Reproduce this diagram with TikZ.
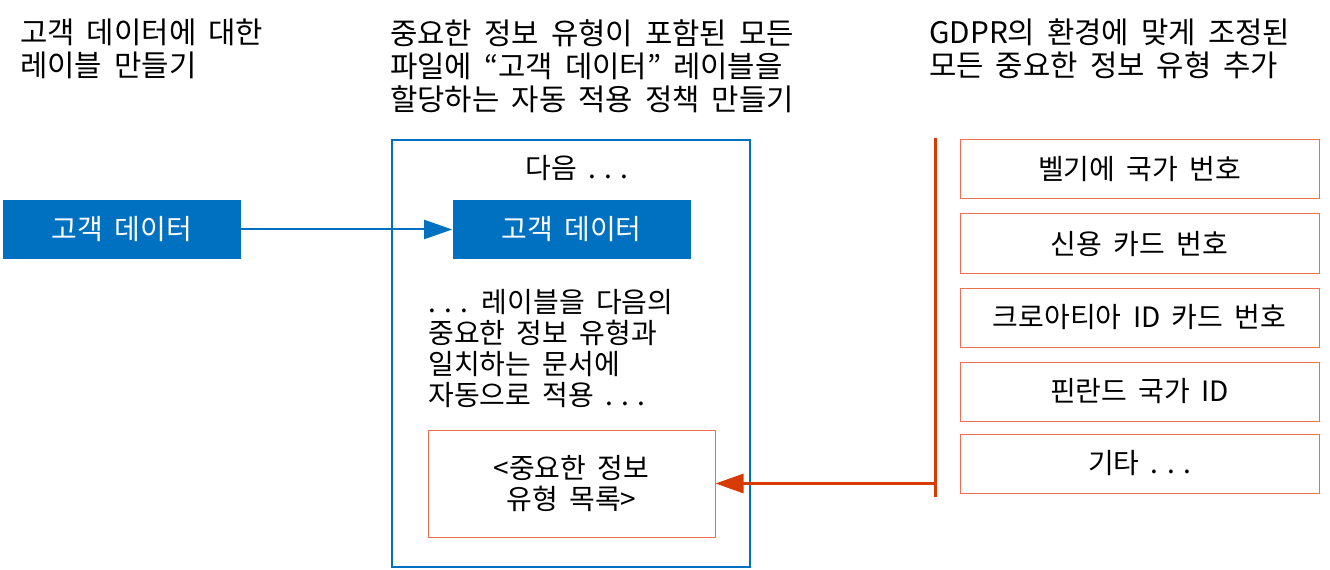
\documentclass[tikz,border=0pt]{standalone}
\usepackage{fontspec}
\setmainfont[WordSpace=1.8]{Noto Sans CJK KR}
\usetikzlibrary{arrows.meta}
\definecolor{msblue}{RGB}{0,112,192}
\definecolor{msorange}{RGB}{216,59,1}
\definecolor{lightorange}{RGB}{237,112,80}
\newcommand{\etcdots}{.\hspace{0.3em}.\hspace{0.3em}.}

\begin{document}
\begin{tikzpicture}[x=0.75pt,y=0.75pt,yscale=-1.0,xscale=1.0,
  heading/.style={anchor=north west,inner sep=0pt,align=left,font=\fontsize{22.3}{24.75}\selectfont},
  body/.style={inner sep=0pt,font=\fontsize{21}{23.25}\selectfont},
  labelbox/.style={body,fill=msblue,text=white,minimum width=178.5pt,minimum height=44.25pt},
  typebox/.style={body,draw=lightorange,line width=0.75pt,minimum width=269.25pt,minimum height=44.25pt},
  flow/.style={line width=1.5pt,-{Triangle[length=21pt,width=14.25pt]}}]
\useasboundingbox (0,0) rectangle (1330,570);
\node[heading] (h1) at (20,19) {고객 데이터에 대한\\레이블 만들기};
\node[heading] (h2) at (390,19) {중요한 정보 유형이 포함된 모든\\파일에 “고객 데이터” 레이블을\\할당하는 자동 적용 정책 만들기};
\node[heading] (h3) at (929,19) {GDPR의 환경에 맞게 조정된\\모든 중요한 정보 유형 추가};
\node[labelbox] (src) at (122,229.5) {고객 데이터};
\node[draw=msblue,line width=1.8pt,minimum width=268.5pt,minimum height=320.25pt,inner sep=0pt] (policy) at (571,353.5) {};
\node[body] (next) at (577,168) {다음 \etcdots};
\node[labelbox] (dst) at (571.5,229.5) {고객 데이터};
\node[body,anchor=north west,align=left] (rule) at (428,289) {\etcdots{} 레이블을 다음의\\중요한 정보 유형과\\일치하는 문서에\\자동으로 적용 \etcdots};
\node[typebox,minimum width=215.25pt,minimum height=80.25pt,align=center] (list) at (571.5,483.5) {<중요한 정보\\유형 목록>};
\node[typebox] (t1) at (1139.5,169.5) {벨기에 국가 번호};
\node[typebox] (t2) at (1139.5,243.5) {신용 카드 번호};
\node[typebox] (t3) at (1139.5,317.5) {크로아티아 ID 카드 번호};
\node[typebox] (t4) at (1139.5,391.5) {핀란드 국가 ID};
\node[typebox] (t5) at (1139.5,463.5) {기타 \etcdots};
\coordinate (bartop) at (935,138);
\coordinate (barbot) at (935,497);
\coordinate (tap) at (935,483.5);
\draw[msorange,line width=2.25pt] (bartop) -- (barbot);
\draw[flow,msblue] (src) -- (dst);
\draw[flow,msorange,line width=2.25pt] (tap) -- (list);
\end{tikzpicture}
\end{document}
